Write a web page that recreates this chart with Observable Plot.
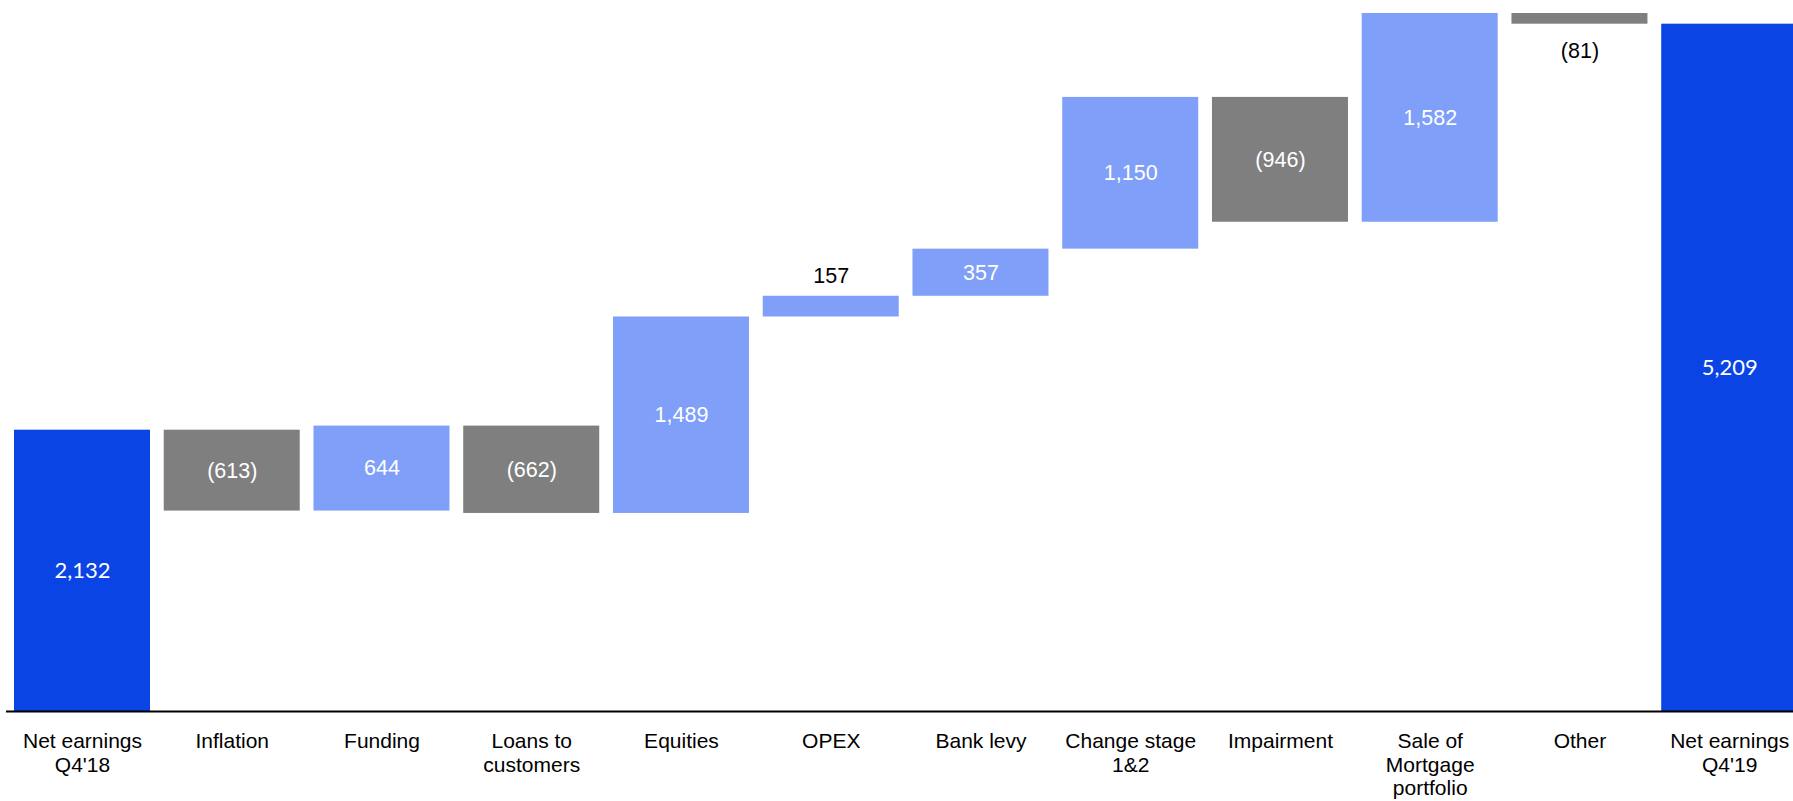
<!DOCTYPE html>
<html>
<head>
<meta charset="utf-8">
<script src="https://cdn.jsdelivr.net/npm/d3@7"></script>
<script src="https://cdn.jsdelivr.net/npm/@observablehq/plot@0.6"></script>
<style>
  html, body { margin: 0; padding: 0; background: #fff; overflow: hidden; }
</style>
</head>
<body>
<div id="chart"></div>
<script>
const categories = ["Net earnings\nQ4'18", "Inflation", "Funding", "Loans to\ncustomers", "Equities", "OPEX", "Bank levy", "Change stage\n1&2", "Impairment", "Sale of\nMortgage\nportfolio", "Other", "Net earnings\nQ4'19"];
const values = [2132, -613, 644, -662, 1489, 157, 357, 1150, -946, 1582, -81, 5209];
const kinds = ["total", "delta", "delta", "delta", "delta", "delta", "delta", "delta", "delta", "delta", "delta", "total"];
const valueLabels = ["2,132", "(613)", "644", "(662)", "1,489", "157", "357", "1,150", "(946)", "1,582", "(81)", "5,209"];

const colorTotal = "#0B44E4";
const colorUp = "#809FF8";
const colorDown = "#7F7F7F";

let running = 0;
const rows = categories.map((cat, i) => {
  const v = values[i];
  let start, end;
  if (kinds[i] === "total") { start = 0; end = v; running = v; }
  else { start = running; end = running + v; running = end; }
  const color = kinds[i] === "total" ? colorTotal : (v >= 0 ? colorUp : colorDown);
  return { cat, value: v, start, end, color, label: valueLabels[i], kind: kinds[i] };
});

const inside = rows.filter(d => Math.abs(d.value) >= 200 && d.kind !== "total");
const totals = rows.filter(d => d.kind === "total");
const aboveSmall = rows.filter(d => Math.abs(d.value) < 200 && d.value > 0);
const belowSmall = rows.filter(d => Math.abs(d.value) < 200 && d.value < 0);

const chart = Plot.plot({
  width: 1793,
  height: 801,
  marginLeft: 6,
  marginRight: 0,
  marginTop: 13,
  marginBottom: 90,
  x: { domain: categories, range: [6, 1805.2], paddingInner: 0.0918, paddingOuter: 0.0534, round: false, label: null },
  y: { domain: [0, 5290], axis: null },
  color: { type: "identity" },
  style: { fontFamily: "'Liberation Sans', Arial, sans-serif", fontSize: "21px", color: "black", background: "white", overflow: "hidden" },
  marks: [
    Plot.barY(rows, { x: "cat", y1: "start", y2: "end", fill: "color" }),
    Plot.ruleY([0], { stroke: "black", strokeWidth: 2 }),
    Plot.axisX({ tickSize: 0, tickPadding: 20, label: null, fill: "black", lineHeight: 1.12 }),
    Plot.text(inside, { x: "cat", y: d => (d.start + d.end) / 2, text: "label", fill: "white", fontSize: 21.5, fontFamily: "'Liberation Sans', Arial, sans-serif" }),
    Plot.text(totals, { x: "cat", y: d => (d.start + d.end) / 2, text: "label", fill: "white", fontSize: 22, fontFamily: "Lato, 'Open Sans', sans-serif" }),
    Plot.text(aboveSmall, { x: "cat", y: "end", dy: -20, text: "label", fill: "black", fontSize: 21.5, fontFamily: "'Liberation Sans', Arial, sans-serif" }),
    Plot.text(belowSmall, { x: "cat", y: "end", dy: 27, text: "label", fill: "black", fontSize: 21.5, fontFamily: "'Liberation Sans', Arial, sans-serif" })
  ]
});
document.getElementById("chart").appendChild(chart);
</script>
</body>
</html>
